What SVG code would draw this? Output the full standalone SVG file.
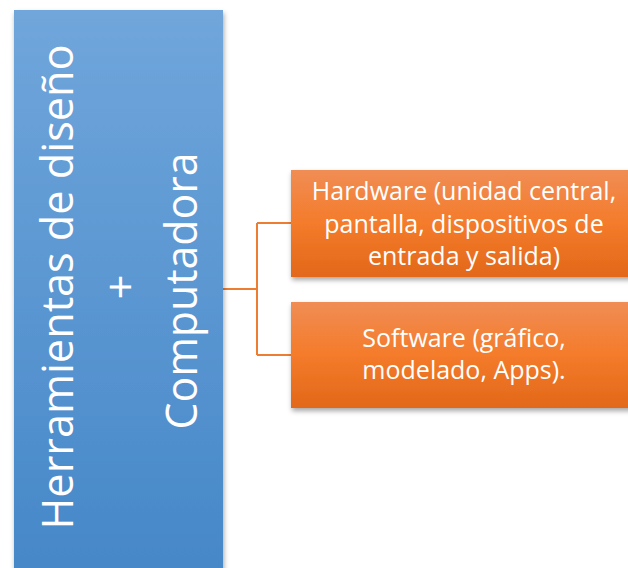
<svg xmlns="http://www.w3.org/2000/svg" width="628" height="568" viewBox="0 0 628 568">
<defs>
<linearGradient id="gb" x1="0" y1="0" x2="0" y2="1">
<stop offset="0" stop-color="#70a6db"/>
<stop offset="1" stop-color="#4587c8"/>
</linearGradient>
<linearGradient id="go" x1="0" y1="0" x2="0" y2="1">
<stop offset="0" stop-color="#f08d55"/>
<stop offset="0.5" stop-color="#f47b2a"/>
<stop offset="1" stop-color="#e2681a"/>
</linearGradient>
<filter id="sh" x="-10%" y="-10%" width="130%" height="130%">
<feDropShadow dx="1" dy="3" stdDeviation="2.5" flood-color="#000" flood-opacity="0.35"/>
</filter>
</defs>
<style>
.wt{fill:#fff;font-family:"Open Sans","Noto Sans",sans-serif;text-anchor:middle}
.big{font-size:44px}
.sm{font-size:25px}
.con{fill:none;stroke:#ed7d31;stroke-width:2}
</style>
<rect width="628" height="568" fill="#fff"/>
<g id="connectors">
<path class="con" d="M223 289 H257 M257 223 V355 M257 223 H291 M257 355 H291"/>
</g>
<g id="main">
<rect x="14" y="10" width="209" height="570" fill="url(#gb)" filter="url(#sh)"/>
<g transform="translate(0,287) rotate(-90)">
<text class="wt big" x="0" y="73" textLength="485" lengthAdjust="spacingAndGlyphs">Herramientas de diseño</text>
<text class="wt big" x="0" y="136">+</text>
<text class="wt big" x="-4" y="197" textLength="277" lengthAdjust="spacingAndGlyphs">Computadora</text>
</g>
</g>
<g id="hardware">
<rect x="291" y="170" width="346" height="107" fill="url(#go)" filter="url(#sh)"/>
<text class="wt sm" x="464" y="200">Hardware (unidad central,</text>
<text class="wt sm" x="464" y="233">pantalla, dispositivos de</text>
<text class="wt sm" x="464" y="265">entrada y salida)</text>
</g>
<g id="software">
<rect x="291" y="302" width="346" height="106" fill="url(#go)" filter="url(#sh)"/>
<text class="wt sm" x="464" y="347">Software (gráfico,</text>
<text class="wt sm" x="464" y="379">modelado, Apps).</text>
</g>
</svg>
